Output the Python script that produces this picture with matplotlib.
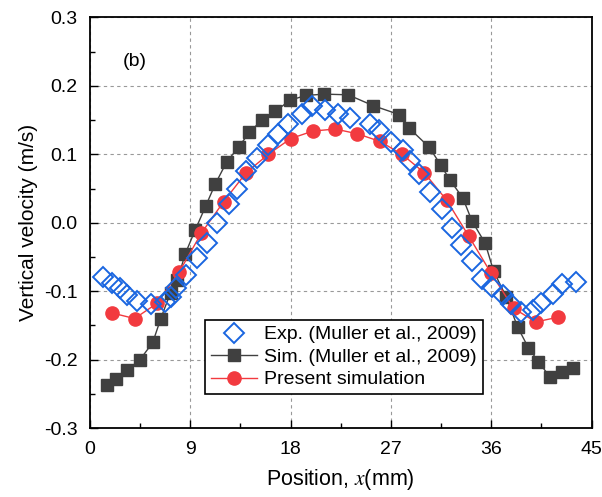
import matplotlib
matplotlib.use("Agg")
import matplotlib.pyplot as plt
from matplotlib.ticker import MultipleLocator

plt.rcParams['font.family'] = ['Liberation Sans', 'DejaVu Sans']
plt.rcParams['mathtext.fontset'] = 'stix'

# Exp. (Muller et al., 2009)
exp_x = [1.21, 1.95, 2.72, 3.32, 4.19, 5.50, 6.69, 7.23, 7.76, 8.64, 9.58, 10.48,
         11.43, 12.48, 13.20, 14.00, 14.94, 15.96, 16.90, 17.80, 19.00, 19.89,
         21.09, 22.26, 23.34, 25.13, 25.94, 27.02, 28.05, 28.73, 29.56, 30.52,
         31.57, 32.47, 33.26, 34.26, 35.16, 36.06, 37.03, 37.79, 38.69, 39.72,
         40.48, 41.52, 42.34, 43.63]
exp_y = [-0.080, -0.088, -0.095, -0.106, -0.115, -0.119, -0.116, -0.108, -0.095,
         -0.076, -0.052, -0.029, 0.000, 0.027, 0.050, 0.076, 0.094, 0.113, 0.129,
         0.144, 0.159, 0.170, 0.165, 0.159, 0.153, 0.144, 0.136, 0.118, 0.106,
         0.090, 0.071, 0.045, 0.020, -0.008, -0.033, -0.056, -0.082, -0.094,
         -0.106, -0.119, -0.131, -0.127, -0.117, -0.104, -0.090, -0.087]

# Sim. (Muller et al., 2009)
sim_x = [1.50, 2.33, 3.35, 4.49, 5.63, 6.35, 7.23, 7.85, 8.53, 9.43, 10.37, 11.25,
         12.27, 13.35, 14.30, 15.41, 16.63, 17.95, 19.34, 21.01, 23.16, 25.43,
         27.77, 28.66, 30.46, 31.48, 32.32, 33.46, 34.26, 35.46, 36.22, 37.34,
         38.36, 39.34, 40.24, 41.29, 42.34, 43.33]
sim_y = [-0.237, -0.228, -0.215, -0.200, -0.175, -0.140, -0.102, -0.084, -0.046,
         -0.011, 0.024, 0.057, 0.089, 0.111, 0.132, 0.150, 0.163, 0.179, 0.186,
         0.188, 0.187, 0.171, 0.158, 0.138, 0.110, 0.084, 0.062, 0.036, 0.003,
         -0.030, -0.071, -0.108, -0.152, -0.183, -0.203, -0.226, -0.218, -0.213]

# Present simulation
pre_x = [2, 4, 6, 8, 10, 12, 14, 16, 18, 20, 22, 24, 26, 28, 30, 32, 34, 36, 38, 40, 42]
pre_y = [-0.132, -0.140, -0.118, -0.072, -0.015, 0.031, 0.073, 0.100, 0.123, 0.134,
         0.137, 0.130, 0.119, 0.100, 0.073, 0.033, -0.020, -0.074, -0.125, -0.145,
         -0.138]

x_ticks = [0, 9, 18, 27, 36, 45]
y_ticks = [-0.3, -0.2, -0.1, 0.0, 0.1, 0.2, 0.3]

fig = plt.figure(figsize=(6.02, 4.97), dpi=100)
ax = fig.add_axes([0.1495, 0.1388, 0.8331, 0.826])

blue = '#1a66e0'
gray = '#404040'
red = '#f23a3f'

ax.plot(sim_x, sim_y, color=gray, lw=1.0, marker='s', ms=8, mfc=gray, mec=gray,
        label='Sim. (Muller et al., 2009)', zorder=3)
ax.plot(pre_x, pre_y, color=red, lw=1.0, marker='o', ms=9.5, mfc=red, mec=red,
        label='Present simulation', zorder=4)
ax.plot(exp_x, exp_y, ls='none', marker='D', ms=10, mfc='none', mec=blue, mew=1.4,
        label='Exp. (Muller et al., 2009)', zorder=5)

ax.set_xlim(0, 45)
ax.set_ylim(-0.3, 0.3)
ax.set_xticks(x_ticks)
ax.set_yticks(y_ticks)
ax.set_yticklabels(['%.1f' % v for v in y_ticks])
ax.xaxis.set_minor_locator(MultipleLocator(4.5))
ax.yaxis.set_minor_locator(MultipleLocator(0.05))
ax.tick_params(which='both', direction='in', top=False, right=False, width=1.0,
               labelsize=14, color='black')
ax.tick_params(which='major', length=6)
ax.tick_params(which='minor', length=3.5)
ax.tick_params(axis='x', which='major', pad=9)
ax.tick_params(axis='y', which='major', pad=9)
for s in ax.spines.values():
    s.set_linewidth(1.3)
ax.grid(True, which='major', ls=(0, (3, 3)), color='#999999', lw=0.8)
ax.set_axisbelow(True)

ax.set_xlabel('Position, $x$(mm)', fontsize=15.5, labelpad=7)
ax.set_ylabel('Vertical velocity (m/s)', fontsize=15, labelpad=4)

ax.text(2.9, 0.235, '(b)', fontsize=14, ha='left', va='center')

h, l = ax.get_legend_handles_labels()
order = [2, 0, 1]
leg = ax.legend([h[i] for i in order], [l[i] for i in order], loc='upper left',
                bbox_to_anchor=(0.229, 0.263), fontsize=14, frameon=True,
                fancybox=False, edgecolor='black', framealpha=1, borderpad=0.3,
                labelspacing=0.25, handlelength=2.4, handletextpad=0.35,
                borderaxespad=0)
leg.get_frame().set_linewidth(1.2)

fig.savefig('out.png', dpi=100)
